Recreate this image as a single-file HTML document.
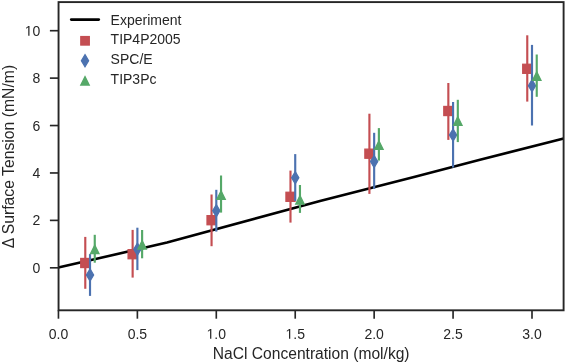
<!DOCTYPE html>
<html><head><meta charset="utf-8">
<style>
html,body{margin:0;padding:0;background:#fff;width:566px;height:363px;overflow:hidden;}
svg{display:block;will-change:transform;}
text{font-family:"Liberation Sans",sans-serif;font-size:14px;fill:#262626;}
</style></head>
<body>
<svg width="566" height="363" viewBox="0 0 566 363">
<rect width="566" height="363" fill="#fff"/>
<polyline points="58.3,267.6 167,242.6 320,201.0 415,176.8 480,159.8 563.7,138.6" fill="none" stroke="#000" stroke-width="2.6" stroke-linejoin="round" stroke-linecap="butt"/>
<line x1="85.28" y1="236.90" x2="85.28" y2="288.80" stroke="#c44e52" stroke-width="2.15"/>
<rect x="80.73" y="258.45" width="9.10" height="9.10" fill="#c44e52" stroke="#c44e52" stroke-width="1.27" stroke-linejoin="miter"/>
<line x1="132.64" y1="229.90" x2="132.64" y2="277.60" stroke="#c44e52" stroke-width="2.15"/>
<rect x="128.09" y="249.65" width="9.10" height="9.10" fill="#c44e52" stroke="#c44e52" stroke-width="1.27" stroke-linejoin="miter"/>
<line x1="211.56" y1="194.50" x2="211.56" y2="246.20" stroke="#c44e52" stroke-width="2.15"/>
<rect x="207.01" y="215.65" width="9.10" height="9.10" fill="#c44e52" stroke="#c44e52" stroke-width="1.27" stroke-linejoin="miter"/>
<line x1="290.49" y1="170.60" x2="290.49" y2="222.60" stroke="#c44e52" stroke-width="2.15"/>
<rect x="285.94" y="192.25" width="9.10" height="9.10" fill="#c44e52" stroke="#c44e52" stroke-width="1.27" stroke-linejoin="miter"/>
<line x1="369.41" y1="113.70" x2="369.41" y2="193.90" stroke="#c44e52" stroke-width="2.15"/>
<rect x="364.86" y="149.15" width="9.10" height="9.10" fill="#c44e52" stroke="#c44e52" stroke-width="1.27" stroke-linejoin="miter"/>
<line x1="448.34" y1="83.00" x2="448.34" y2="139.90" stroke="#c44e52" stroke-width="2.15"/>
<rect x="443.79" y="106.45" width="9.10" height="9.10" fill="#c44e52" stroke="#c44e52" stroke-width="1.27" stroke-linejoin="miter"/>
<line x1="527.26" y1="35.30" x2="527.26" y2="101.60" stroke="#c44e52" stroke-width="2.15"/>
<rect x="522.71" y="64.25" width="9.10" height="9.10" fill="#c44e52" stroke="#c44e52" stroke-width="1.27" stroke-linejoin="miter"/>
<line x1="90.02" y1="254.10" x2="90.02" y2="295.90" stroke="#4c72b0" stroke-width="2.15"/>
<polygon points="90.02,268.89 93.63,274.90 90.02,280.91 86.41,274.90" fill="#4c72b0" stroke="#4c72b0" stroke-width="1.27" stroke-linejoin="miter" stroke-miterlimit="10"/>
<line x1="137.38" y1="227.70" x2="137.38" y2="270.10" stroke="#4c72b0" stroke-width="2.15"/>
<polygon points="137.38,243.19 140.98,249.20 137.38,255.21 133.77,249.20" fill="#4c72b0" stroke="#4c72b0" stroke-width="1.27" stroke-linejoin="miter" stroke-miterlimit="10"/>
<line x1="216.30" y1="189.80" x2="216.30" y2="231.60" stroke="#4c72b0" stroke-width="2.15"/>
<polygon points="216.30,204.69 219.91,210.70 216.30,216.71 212.69,210.70" fill="#4c72b0" stroke="#4c72b0" stroke-width="1.27" stroke-linejoin="miter" stroke-miterlimit="10"/>
<line x1="295.22" y1="154.10" x2="295.22" y2="200.90" stroke="#4c72b0" stroke-width="2.15"/>
<polygon points="295.22,171.69 298.83,177.70 295.22,183.71 291.62,177.70" fill="#4c72b0" stroke="#4c72b0" stroke-width="1.27" stroke-linejoin="miter" stroke-miterlimit="10"/>
<line x1="374.15" y1="132.80" x2="374.15" y2="189.00" stroke="#4c72b0" stroke-width="2.15"/>
<polygon points="374.15,155.49 377.76,161.50 374.15,167.51 370.54,161.50" fill="#4c72b0" stroke="#4c72b0" stroke-width="1.27" stroke-linejoin="miter" stroke-miterlimit="10"/>
<line x1="453.07" y1="102.00" x2="453.07" y2="167.60" stroke="#4c72b0" stroke-width="2.15"/>
<polygon points="453.07,128.99 456.68,135.00 453.07,141.01 449.47,135.00" fill="#4c72b0" stroke="#4c72b0" stroke-width="1.27" stroke-linejoin="miter" stroke-miterlimit="10"/>
<line x1="532.00" y1="44.90" x2="532.00" y2="125.50" stroke="#4c72b0" stroke-width="2.15"/>
<polygon points="532.00,79.69 535.61,85.70 532.00,91.71 528.39,85.70" fill="#4c72b0" stroke="#4c72b0" stroke-width="1.27" stroke-linejoin="miter" stroke-miterlimit="10"/>
<line x1="94.76" y1="234.80" x2="94.76" y2="262.70" stroke="#55a868" stroke-width="2.15"/>
<polygon points="94.76,245.05 99.01,253.55 90.51,253.55" fill="#55a868" stroke="#55a868" stroke-width="1.27" stroke-linejoin="miter" stroke-miterlimit="10"/>
<line x1="142.11" y1="230.00" x2="142.11" y2="258.30" stroke="#55a868" stroke-width="2.15"/>
<polygon points="142.11,240.55 146.36,249.05 137.86,249.05" fill="#55a868" stroke="#55a868" stroke-width="1.27" stroke-linejoin="miter" stroke-miterlimit="10"/>
<line x1="221.04" y1="175.50" x2="221.04" y2="212.60" stroke="#55a868" stroke-width="2.15"/>
<polygon points="221.04,190.85 225.29,199.35 216.79,199.35" fill="#55a868" stroke="#55a868" stroke-width="1.27" stroke-linejoin="miter" stroke-miterlimit="10"/>
<line x1="299.96" y1="185.00" x2="299.96" y2="212.90" stroke="#55a868" stroke-width="2.15"/>
<polygon points="299.96,195.55 304.21,204.05 295.71,204.05" fill="#55a868" stroke="#55a868" stroke-width="1.27" stroke-linejoin="miter" stroke-miterlimit="10"/>
<line x1="378.89" y1="128.10" x2="378.89" y2="160.60" stroke="#55a868" stroke-width="2.15"/>
<polygon points="378.89,140.85 383.14,149.35 374.64,149.35" fill="#55a868" stroke="#55a868" stroke-width="1.27" stroke-linejoin="miter" stroke-miterlimit="10"/>
<line x1="457.81" y1="99.80" x2="457.81" y2="142.10" stroke="#55a868" stroke-width="2.15"/>
<polygon points="457.81,116.75 462.06,125.25 453.56,125.25" fill="#55a868" stroke="#55a868" stroke-width="1.27" stroke-linejoin="miter" stroke-miterlimit="10"/>
<line x1="536.74" y1="54.50" x2="536.74" y2="96.80" stroke="#55a868" stroke-width="2.15"/>
<polygon points="536.74,71.85 540.99,80.35 532.49,80.35" fill="#55a868" stroke="#55a868" stroke-width="1.27" stroke-linejoin="miter" stroke-miterlimit="10"/>
<rect x="58.55" y="2.1" width="505.05" height="308.2" fill="none" stroke="#262626" stroke-width="1.9"/>
<line x1="58.45" y1="310.3" x2="58.45" y2="318.7" stroke="#262626" stroke-width="1.65"/>
<text x="48.72" y="338.70">0.0</text>
<line x1="137.38" y1="310.3" x2="137.38" y2="318.7" stroke="#262626" stroke-width="1.65"/>
<text x="127.64" y="338.70">0.5</text>
<line x1="216.30" y1="310.3" x2="216.30" y2="318.7" stroke="#262626" stroke-width="1.65"/>
<path d="M515,0L515,1237L197,1010L197,1180L530,1409L696,1409L696,0Z" transform="translate(206.569,338.70) scale(0.006836,-0.006836)" fill="#262626"/><text x="214.36" y="338.70">.0</text>
<line x1="295.22" y1="310.3" x2="295.22" y2="318.7" stroke="#262626" stroke-width="1.65"/>
<path d="M515,0L515,1237L197,1010L197,1180L530,1409L696,1409L696,0Z" transform="translate(285.494,338.70) scale(0.006836,-0.006836)" fill="#262626"/><text x="293.28" y="338.70">.5</text>
<line x1="374.15" y1="310.3" x2="374.15" y2="318.7" stroke="#262626" stroke-width="1.65"/>
<text x="364.42" y="338.70">2.0</text>
<line x1="453.07" y1="310.3" x2="453.07" y2="318.7" stroke="#262626" stroke-width="1.65"/>
<text x="443.34" y="338.70">2.5</text>
<line x1="532.00" y1="310.3" x2="532.00" y2="318.7" stroke="#262626" stroke-width="1.65"/>
<text x="522.27" y="338.70">3.0</text>
<line x1="49.9" y1="267.80" x2="58.55" y2="267.80" stroke="#262626" stroke-width="1.65"/>
<text x="32.51" y="272.80">0</text>
<line x1="49.9" y1="220.38" x2="58.55" y2="220.38" stroke="#262626" stroke-width="1.65"/>
<text x="32.51" y="225.38">2</text>
<line x1="49.9" y1="172.96" x2="58.55" y2="172.96" stroke="#262626" stroke-width="1.65"/>
<text x="32.51" y="177.96">4</text>
<line x1="49.9" y1="125.54" x2="58.55" y2="125.54" stroke="#262626" stroke-width="1.65"/>
<text x="32.51" y="130.54">6</text>
<line x1="49.9" y1="78.12" x2="58.55" y2="78.12" stroke="#262626" stroke-width="1.65"/>
<text x="32.51" y="83.12">8</text>
<line x1="49.9" y1="30.70" x2="58.55" y2="30.70" stroke="#262626" stroke-width="1.65"/>
<path d="M515,0L515,1237L197,1010L197,1180L530,1409L696,1409L696,0Z" transform="translate(24.728,35.70) scale(0.006836,-0.006836)" fill="#262626"/><text x="32.51" y="35.70">0</text>
<text x="311.2" y="359" text-anchor="middle" style="font-size:15.6px">NaCl Concentration (mol/kg)</text>
<text transform="translate(13.6,156.6) rotate(-90)" text-anchor="middle" style="font-size:15.75px">Δ Surface Tension (mN/m)</text>
<line x1="71.2" y1="19.6" x2="98.8" y2="19.6" stroke="#000" stroke-width="2.6" stroke-linecap="round"/>
<rect x="80.80" y="36.55" width="8.50" height="8.50" fill="#c44e52" stroke="#c44e52" stroke-width="1.27" stroke-linejoin="miter"/>
<polygon points="85.00,54.69 88.61,60.70 85.00,66.71 81.39,60.70" fill="#4c72b0" stroke="#4c72b0" stroke-width="1.27" stroke-linejoin="miter" stroke-miterlimit="10"/>
<polygon points="85.00,76.55 89.25,85.05 80.75,85.05" fill="#55a868" stroke="#55a868" stroke-width="1.27" stroke-linejoin="miter" stroke-miterlimit="10"/>
<text x="110.6" y="24.70">Experiment</text>
<text x="110.6" y="44.40">TIP4P2005</text>
<text x="110.6" y="64.10">SPC/E</text>
<text x="110.6" y="83.80">TIP3Pc</text>
</svg>
</body></html>
